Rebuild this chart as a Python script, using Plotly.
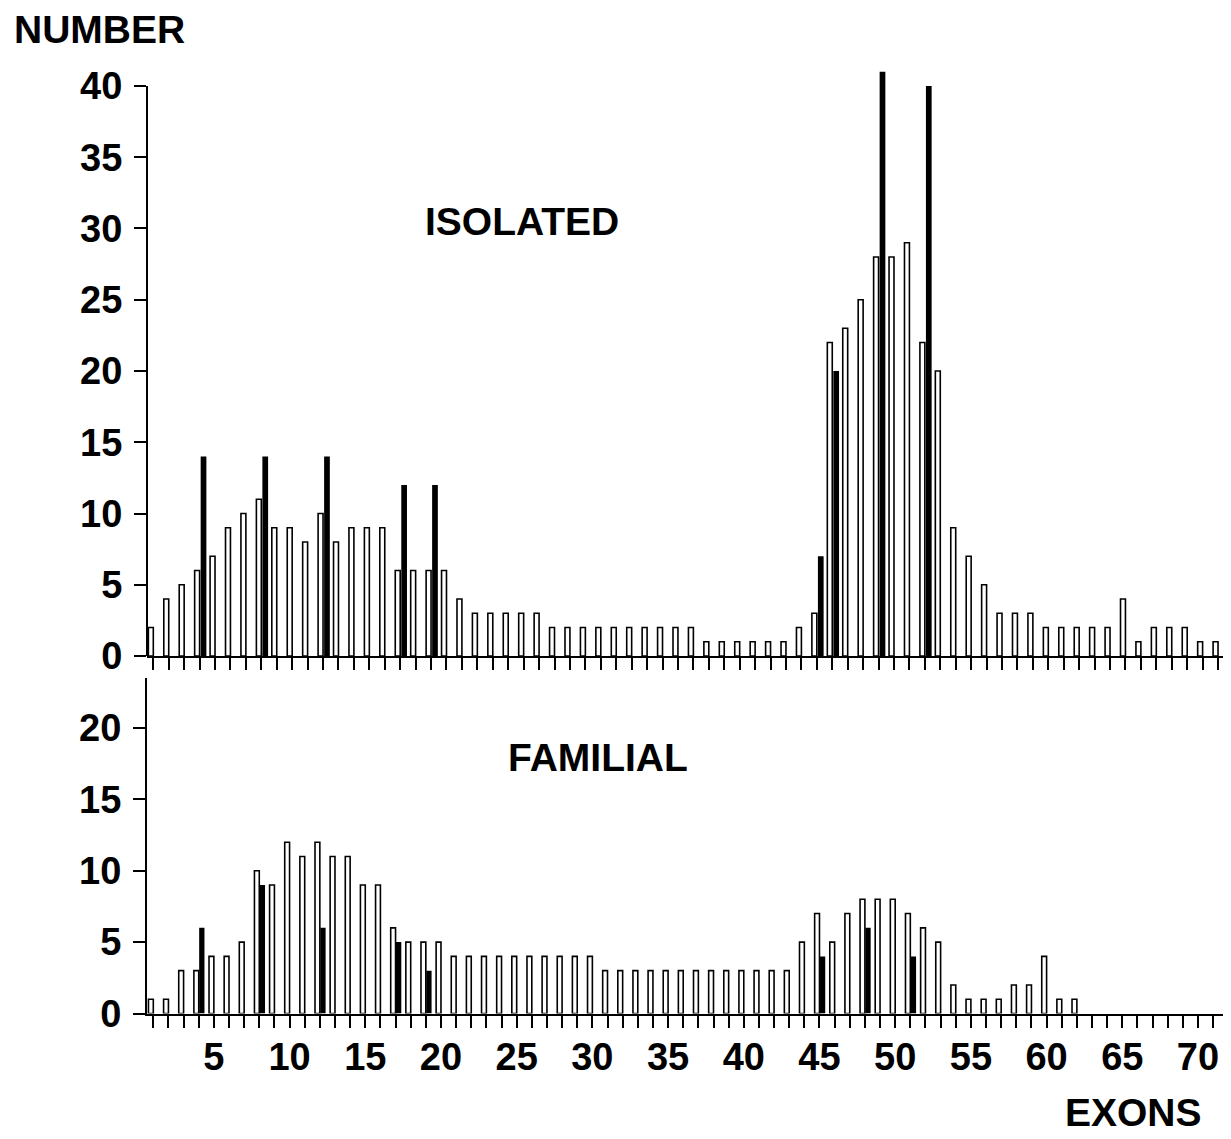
import plotly.graph_objects as go

# ---------------- data ----------------
exons_isolated = list(range(1, 71))
isolated_open = [2, 4, 5, 6, 7, 9, 10, 11, 9, 9,
                 8, 10, 8, 9, 9, 9, 6, 6, 6, 6,
                 4, 3, 3, 3, 3, 3, 2, 2, 2, 2,
                 2, 2, 2, 2, 2, 2, 1, 1, 1, 1,
                 1, 1, 2, 3, 22, 23, 25, 28, 28, 29,
                 22, 20, 9, 7, 5, 3, 3, 3, 2, 2,
                 2, 2, 2, 4, 1, 2, 2, 2, 1, 1]
isolated_filled_exons = [4, 8, 12, 17, 19, 44, 45, 48, 51]
isolated_filled = [14, 14, 14, 12, 12, 7, 20, 41, 40]

exons_familial = list(range(1, 63))
familial_open = [1, 1, 3, 3, 4, 4, 5, 10, 9, 12,
                 11, 12, 11, 11, 9, 9, 6, 5, 5, 5,
                 4, 4, 4, 4, 4, 4, 4, 4, 4, 4,
                 3, 3, 3, 3, 3, 3, 3, 3, 3, 3,
                 3, 3, 3, 5, 7, 5, 7, 8, 8, 8,
                 7, 6, 5, 2, 1, 1, 1, 2, 2, 4,
                 1, 1]
familial_filled_exons = [4, 8, 12, 17, 19, 45, 48, 51]
familial_filled = [6, 9, 6, 5, 3, 4, 6, 4]

x_ticks_top = list(range(1, 71))
x_ticks_bottom = list(range(1, 73))
x_tick_text_bottom = [str(n) if n % 5 == 0 else "" for n in x_ticks_bottom]
y_ticks_top = [0, 5, 10, 15, 20, 25, 30, 35, 40]
y_ticks_bottom = [0, 5, 10, 15, 20]

# ---------------- figure ----------------
PAGE = 8                      # default body margin of the html page
W, H = 1231 - PAGE, 1139 - PAGE
FONT = "Liberation Sans, Arial, Helvetica, sans-serif"


def px_x(px):
    return (px - PAGE) / W


def px_y(py):
    return 1 - (py - PAGE) / H


fig = go.Figure()
open_style = dict(color="white", line=dict(color="black", width=1.6))

fig.add_trace(go.Bar(x=exons_isolated, y=isolated_open, xaxis="x", yaxis="y",
                     marker=open_style, offset=-0.32, width=0.32))
fig.add_trace(go.Bar(x=isolated_filled_exons, y=isolated_filled, xaxis="x", yaxis="y",
                     marker=dict(color="black", line=dict(width=0)),
                     offset=0.07, width=0.37))
fig.add_trace(go.Bar(x=exons_familial, y=familial_open, xaxis="x2", yaxis="y2",
                     marker=open_style, offset=-0.32, width=0.32))
fig.add_trace(go.Bar(x=familial_filled_exons, y=familial_filled, xaxis="x2", yaxis="y2",
                     marker=dict(color="black", line=dict(width=0)),
                     offset=0.03, width=0.35))

tick_font = dict(family=FONT, size=38, color="black", weight="bold")
axis_common = dict(linecolor="black", linewidth=2, showgrid=False, automargin=False,
                   zeroline=False, ticks="outside", ticklen=12, tickwidth=1.5,
                   tickcolor="black", tickfont=tick_font)

TOP_Y_MAX = 41.3  # room for the tallest bar above the last tick
fig.update_layout(
    width=W, height=H, margin=dict(l=0, r=0, t=0, b=0, autoexpand=False),
    paper_bgcolor="white", plot_bgcolor="white", showlegend=False,
    barmode="overlay",
    xaxis=dict(domain=[px_x(147), 1], range=[0.592, 70.84], anchor="y", showline=True,
               tickvals=x_ticks_top, ticktext=[""] * len(x_ticks_top), **axis_common),
    yaxis=dict(domain=[px_y(656), px_y(656 - TOP_Y_MAX * 14.25)],
               range=[0, TOP_Y_MAX], anchor="x", showline=False,
               tickvals=y_ticks_top, ticklabelstandoff=4, **axis_common),
    xaxis2=dict(domain=[px_x(147), 1], range=[0.584, 72.18], anchor="y2", showline=True,
                tickvals=x_ticks_bottom, ticktext=x_tick_text_bottom,
                ticklabelstandoff=-3, **axis_common),
    yaxis2=dict(domain=[px_y(1013.5), px_y(678)], range=[0, 23.5], anchor="x2",
                showline=True, tickvals=y_ticks_bottom, ticklabelstandoff=4, **axis_common),
)

# top y-axis line only spans up to the last tick (40)
fig.add_shape(type="line", xref="x domain", yref="y", x0=0, x1=0,
              y0=0, y1=y_ticks_top[-1], line=dict(color="black", width=2))


def label(text, px, py, xanchor="center"):
    fig.add_annotation(text=text, x=px_x(px), y=px_y(py), xref="paper", yref="paper",
                       xanchor=xanchor, yanchor="middle", showarrow=False,
                       font=dict(family=FONT, size=39, color="black", weight="bold"))


label("NUMBER", 12, 29, xanchor="left")
label("ISOLATED", 522, 222)
label("FAMILIAL", 598, 757)
label("EXONS", 1133, 1112)

fig.write_html("out.html")
